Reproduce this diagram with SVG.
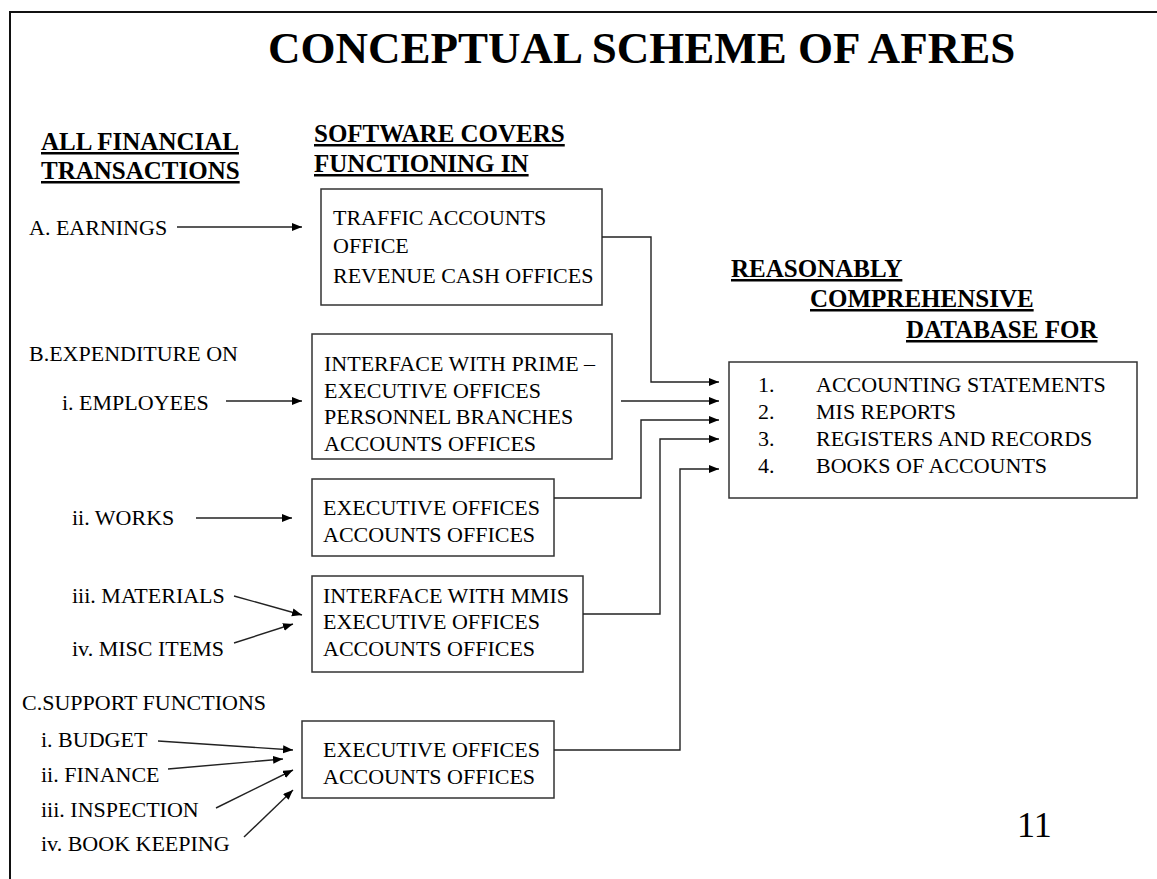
<svg xmlns="http://www.w3.org/2000/svg" width="1157" height="879" viewBox="0 0 1157 879">
  <style>
    text { font-family: "Liberation Serif", "Times New Roman", serif; fill: #000; }
    .title { font-size: 45px; font-weight: bold; }
    .head { font-size: 25px; font-weight: bold; text-decoration: underline; }
    .body { font-size: 22px; }
    .box { fill: #fff; stroke: #333; stroke-width: 1.5; }
    .wire { fill: none; stroke: #222; stroke-width: 1.4; }
    .num { font-size: 36px; }
  </style>
  <defs>
    <marker id="arrow" markerUnits="userSpaceOnUse" markerWidth="11" markerHeight="9" refX="10" refY="4" orient="auto">
      <path d="M0,0 L10,4 L0,8 z" fill="#000"/>
    </marker>
  </defs>

  <rect width="1157" height="879" fill="#fff"/>
  <!-- slide frame, open to the right and bottom -->
  <rect x="10" y="12" width="1200" height="900" fill="none" stroke="#111" stroke-width="2"/>

  <text class="title" x="268" y="63">CONCEPTUAL SCHEME OF AFRES</text>

  <!-- column headings -->
  <g id="heading-transactions">
    <text class="head" x="41" y="150">ALL FINANCIAL</text>
    <text class="head" x="41" y="179">TRANSACTIONS</text>
  </g>
  <g id="heading-software">
    <text class="head" x="314" y="142">SOFTWARE COVERS</text>
    <text class="head" x="314" y="172">FUNCTIONING IN</text>
  </g>
  <g id="heading-database">
    <text class="head" x="731" y="277">REASONABLY</text>
    <text class="head" x="810" y="307">COMPREHENSIVE</text>
    <text class="head" x="906" y="338">DATABASE FOR</text>
  </g>

  <!-- transaction labels -->
  <g id="earnings"><text class="body" x="29" y="235">A. EARNINGS</text></g>
  <g id="expenditure"><text class="body" x="29" y="361">B.EXPENDITURE ON</text></g>
  <g id="employees"><text class="body" x="62" y="410">i. EMPLOYEES</text></g>
  <g id="works"><text class="body" x="72" y="525">ii. WORKS</text></g>
  <g id="materials"><text class="body" x="72" y="603">iii. MATERIALS</text></g>
  <g id="misc-items"><text class="body" x="72" y="656">iv. MISC ITEMS</text></g>
  <g id="support"><text class="body" x="22" y="710">C.SUPPORT FUNCTIONS</text></g>
  <g id="budget"><text class="body" x="41" y="747">i. BUDGET</text></g>
  <g id="finance"><text class="body" x="41" y="782">ii. FINANCE</text></g>
  <g id="inspection"><text class="body" x="41" y="817">iii. INSPECTION</text></g>
  <g id="book-keeping"><text class="body" x="41" y="851">iv. BOOK KEEPING</text></g>

  <!-- office boxes -->
  <g id="traffic-offices">
    <rect class="box" x="321" y="189" width="281" height="116"/>
    <text class="body" x="333" y="225">TRAFFIC ACCOUNTS</text>
    <text class="body" x="333" y="253">OFFICE</text>
    <text class="body" x="333" y="283">REVENUE CASH OFFICES</text>
  </g>
  <g id="prime-offices">
    <rect class="box" x="312" y="334" width="300" height="125"/>
    <text class="body" x="324" y="371">INTERFACE WITH PRIME –</text>
    <text class="body" x="324" y="398">EXECUTIVE OFFICES</text>
    <text class="body" x="324" y="424">PERSONNEL BRANCHES</text>
    <text class="body" x="324" y="451">ACCOUNTS OFFICES</text>
  </g>
  <g id="works-offices">
    <rect class="box" x="312" y="479" width="242" height="77"/>
    <text class="body" x="323" y="515">EXECUTIVE OFFICES</text>
    <text class="body" x="323" y="542">ACCOUNTS OFFICES</text>
  </g>
  <g id="mmis-offices">
    <rect class="box" x="312" y="576" width="271" height="96"/>
    <text class="body" x="323" y="603">INTERFACE WITH MMIS</text>
    <text class="body" x="323" y="629">EXECUTIVE OFFICES</text>
    <text class="body" x="323" y="656">ACCOUNTS OFFICES</text>
  </g>
  <g id="support-offices">
    <rect class="box" x="302" y="721" width="252" height="77"/>
    <text class="body" x="323" y="757">EXECUTIVE OFFICES</text>
    <text class="body" x="323" y="784">ACCOUNTS OFFICES</text>
  </g>

  <!-- database box -->
  <g id="database">
    <rect class="box" x="729" y="362" width="408" height="136"/>
    <text class="body" x="758" y="392">1.</text>
    <text class="body" x="816" y="392">ACCOUNTING STATEMENTS</text>
    <text class="body" x="758" y="419">2.</text>
    <text class="body" x="816" y="419">MIS REPORTS</text>
    <text class="body" x="758" y="446">3.</text>
    <text class="body" x="816" y="446">REGISTERS AND RECORDS</text>
    <text class="body" x="758" y="473">4.</text>
    <text class="body" x="816" y="473">BOOKS OF ACCOUNTS</text>
  </g>

  <text class="num" x="1017" y="837">11</text>

  <!-- connectors -->
  <g id="connectors">
    <line class="wire" x1="177" y1="227" x2="302" y2="227" marker-end="url(#arrow)"/>
    <line class="wire" x1="226" y1="401" x2="302" y2="401" marker-end="url(#arrow)"/>
    <line class="wire" x1="196" y1="518" x2="292" y2="518" marker-end="url(#arrow)"/>
    <line class="wire" x1="234" y1="596" x2="302" y2="615" marker-end="url(#arrow)"/>
    <line class="wire" x1="234" y1="643" x2="293" y2="624" marker-end="url(#arrow)"/>
    <line class="wire" x1="158" y1="741" x2="293" y2="750" marker-end="url(#arrow)"/>
    <line class="wire" x1="168" y1="769" x2="283" y2="759" marker-end="url(#arrow)"/>
    <line class="wire" x1="216" y1="808" x2="293" y2="770" marker-end="url(#arrow)"/>
    <line class="wire" x1="244" y1="837" x2="293" y2="790" marker-end="url(#arrow)"/>

    <path class="wire" d="M602 237 H651 V382 H719" marker-end="url(#arrow)"/>
    <path class="wire" d="M621 401 H719" marker-end="url(#arrow)"/>
    <path class="wire" d="M554 498 H641 V420 H719" marker-end="url(#arrow)"/>
    <path class="wire" d="M583 614 H660 V439 H719" marker-end="url(#arrow)"/>
    <path class="wire" d="M554 750 H680 V469 H719" marker-end="url(#arrow)"/>
  </g>
</svg>
